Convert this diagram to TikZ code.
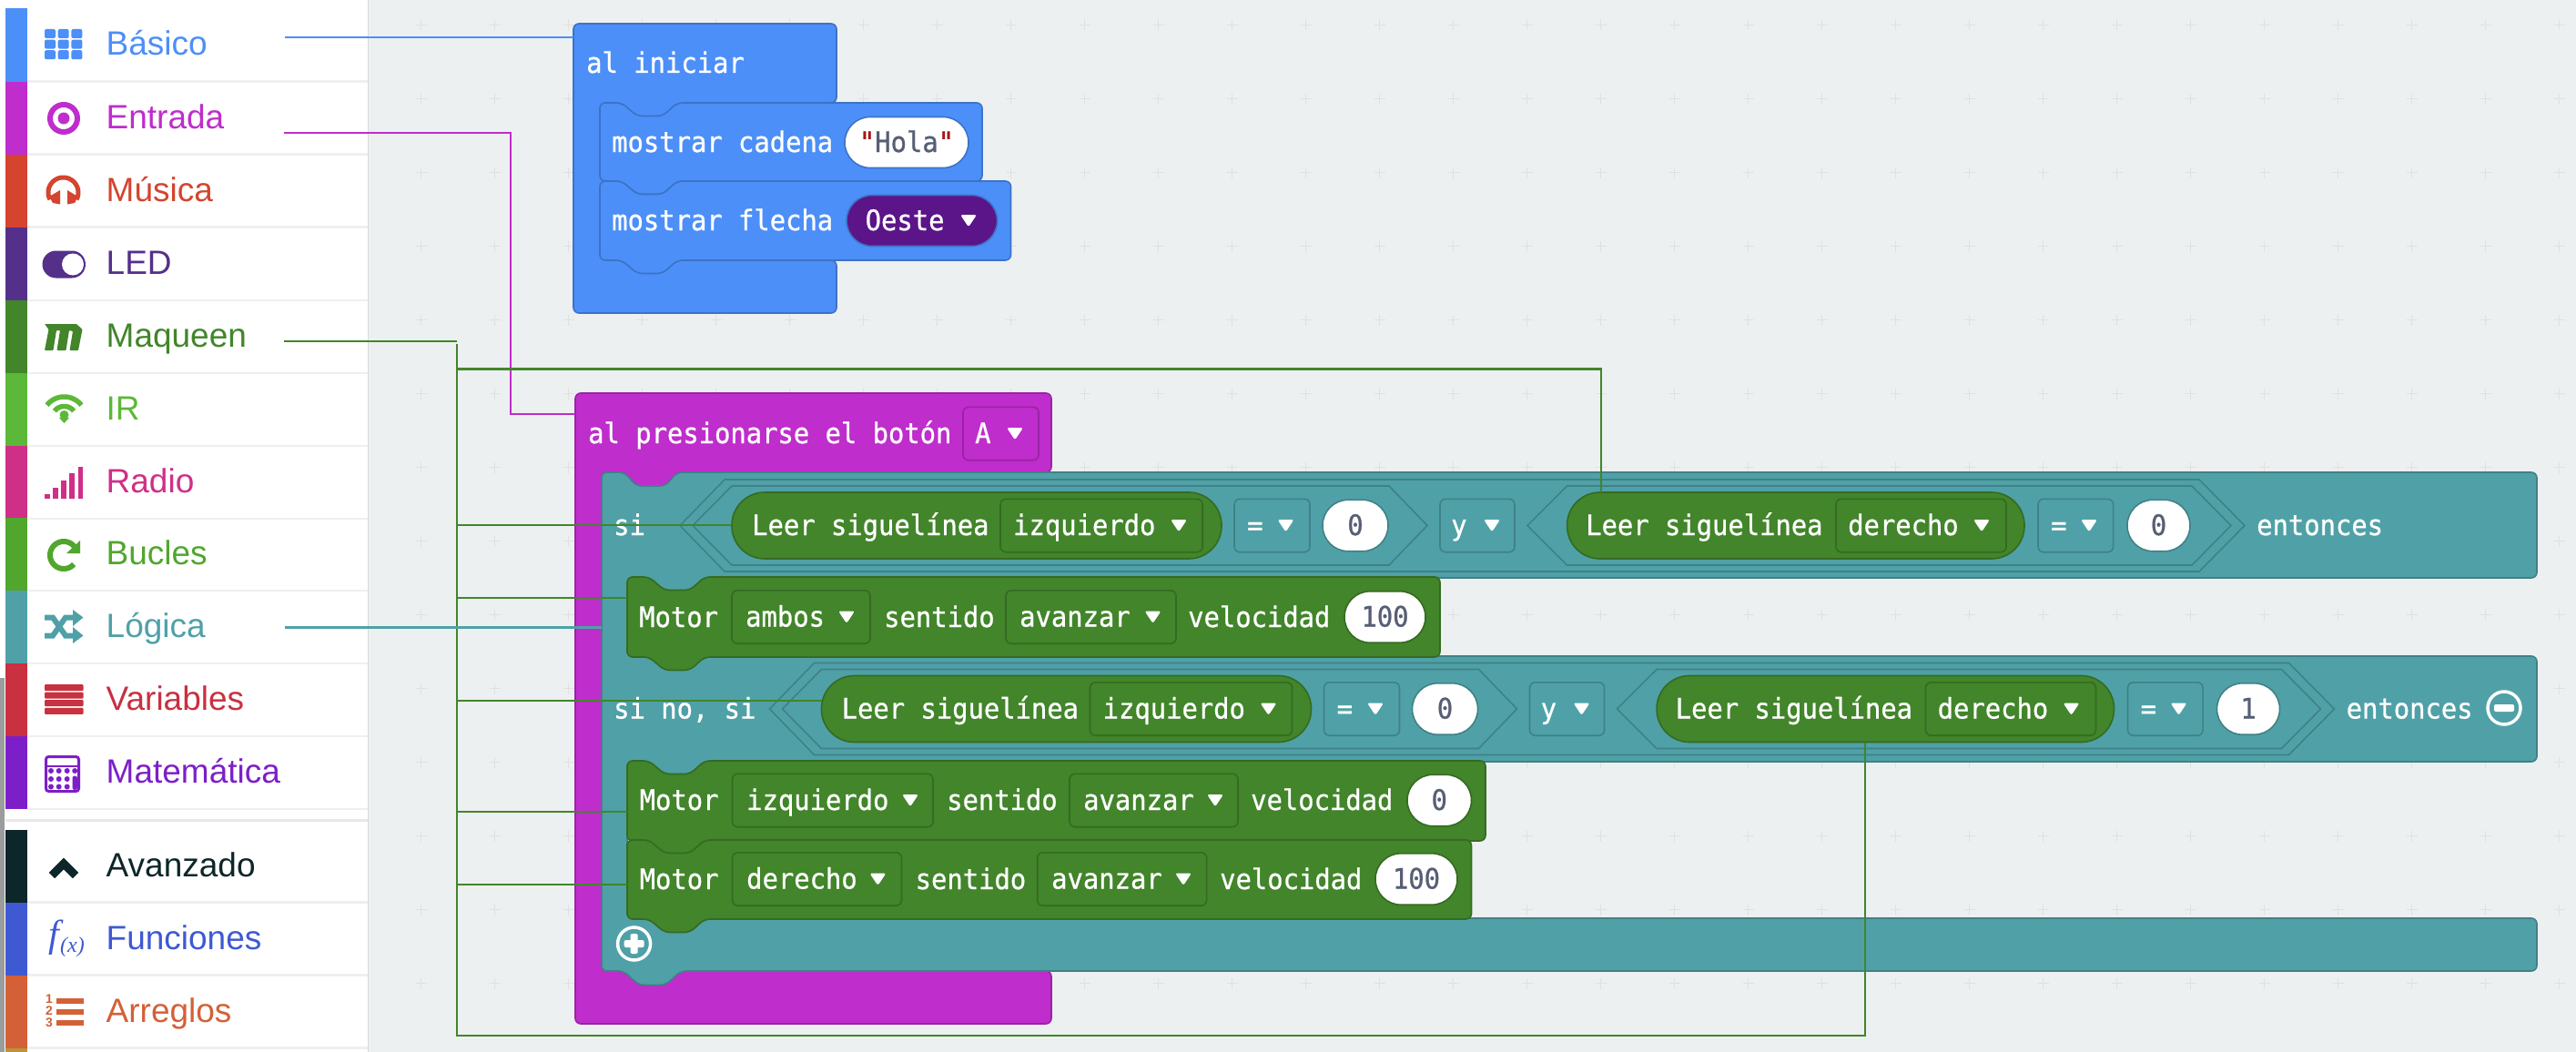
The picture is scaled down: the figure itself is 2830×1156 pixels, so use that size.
\documentclass[tikz,border=0pt]{standalone}
\usepackage{fontspec}
\setmainfont{Liberation Sans}
\newfontfamily\monof[FakeStretch=0.93,FakeBold=0.8]{DejaVu Sans Mono}
\newfontfamily\serif{Liberation Serif}
\definecolor{bgc}{HTML}{ECF0F1}
\definecolor{divc}{HTML}{EDF0F1}
\definecolor{cBas}{HTML}{4C8FF8}
\definecolor{cBasD}{HTML}{3D72C6}
\definecolor{cEnt}{HTML}{BF2DCC}
\definecolor{cEntD}{HTML}{9824A3}
\definecolor{cMus}{HTML}{D4442F}
\definecolor{cLed}{HTML}{55308A}
\definecolor{cMaq}{HTML}{42852A}
\definecolor{cMaqD}{HTML}{356A22}
\definecolor{cIR}{HTML}{5CB838}
\definecolor{cRad}{HTML}{CF2F87}
\definecolor{cBuc}{HTML}{51A62E}
\definecolor{cLog}{HTML}{4FA1A7}
\definecolor{cLogD}{HTML}{3F8186}
\definecolor{cVar}{HTML}{C93040}
\definecolor{cMat}{HTML}{7D1FC8}
\definecolor{cAva}{HTML}{0D2629}
\definecolor{cFun}{HTML}{3F59D3}
\definecolor{cArr}{HTML}{D46037}
\definecolor{cNext}{HTML}{B8963A}
\definecolor{cPur}{HTML}{5C1489}
\definecolor{numc}{HTML}{575E75}
\definecolor{strq}{HTML}{A31515}
\tikzset{
  sidelabel/.style={anchor=base west,inner sep=0pt,font=\fontsize{37pt}{40pt}\selectfont},
  mono/.style={anchor=base west,inner sep=0pt,text=white,font=\monof\fontsize{31pt}{33pt}\selectfont},
  numtext/.style={anchor=base,inner sep=0pt,text=numc,font=\monof\fontsize{31pt}{33pt}\selectfont},
  conn/.style={line width=2.2pt},
  greenblock/.style={fill=cMaq,draw=cMaqD,line width=1.6pt},
  blueblock/.style={fill=cBas,draw=cBasD,line width=1.6pt},
  tealblock/.style={fill=cLog,draw=cLogD,line width=1.6pt},
  purpleblock/.style={fill=cEnt,draw=cEntD,line width=1.6pt},
  hexline/.style={draw=cLogD,line width=1.6pt},
  tri/.style={fill=white,rounded corners=2.5pt},
  plusmark/.style={draw=black!12,line width=1pt},
  anchorarea/.style={inner sep=0pt,outer sep=0pt},
}
% statement block: style, name, x1,y1,x2,y2
\newcommand\stmtblock[6]{%
  \draw[#1,rounded corners=6pt] (#3,{(#4+#6)/2}) -- (#3,#4)
    -- ({#3+24},#4) -- ({#3+41},{#4+14.5}) -- ({#3+69},{#4+14.5}) -- ({#3+85},#4)
    -- (#5,#4) -- (#5,#6)
    -- ({#3+85},#6) -- ({#3+69},{#6+14.5}) -- ({#3+41},{#6+14.5}) -- ({#3+24},#6)
    -- (#3,#6) -- cycle;
  \node[anchorarea,minimum width={(#5-#3)*1pt},minimum height={(#6-#4)*1pt}] (#2) at ({(#3+#5)/2},{(#4+#6)/2}) {};
}
% dropdown: style, name, x1,x2,yc, textx, trix, text
\newcommand\dropd[8]{%
  \draw[#1,rounded corners=6pt] (#3,{#5-29.2}) rectangle (#4,{#5+29.2});
  \node[mono] (#2) at (#6,{#5+10.5}) {#8};
  \fill[tri] ({#7-9},{#5-6.5}) -- ({#7+9},{#5-6.5}) -- (#7,{#5+7}) -- cycle;
}
% oval: style, name, x1,x2,yc, text
\newcommand\ovalbox[6]{%
  \draw[#1,rounded corners=28pt] (#3,{#5-28.2}) rectangle (#4,{#5+28.2});
  \node[numtext] (#2) at ({(#3+#4)/2},{#5+10.5}) {#6};
}
% hexagon outline
\newcommand\hexa[6]{%
  \draw[hexline] (#1,{(#5+#6)/2}) -- (#2,#5) -- (#3,#5) -- (#4,{(#5+#6)/2}) -- (#3,#6) -- (#2,#6) -- cycle;
}
% reporter: name,x1,x2,yc
\newcommand\reporter[4]{%
  \node[anchorarea,fill=cMaq,draw=cMaqD,line width=1.6pt,rounded corners=36pt,minimum width={(#3-#2)*1pt},minimum height=73pt] (#1) at ({(#2+#3)/2},#4) {};
}
% condition row: prefix, value
\newcommand\condrow[2]{%
  \hexa{747}{796}{2416}{2466}{527}{628}
  \hexa{761}{804}{1526}{1568}{534}{621}
  \hexa{1678}{1721.6}{2408}{2451}{534}{621}
  \reporter{#1repa}{804}{1342}{577.5}
  \node[mono] (#1leera) at (826,588) {Leer siguelínea};
  \dropd{greenblock}{#1izq}{1099}{1321}{577.5}{1113}{1295}{izquierdo}
  \dropd{tealblock}{#1eqa}{1356}{1439}{577.5}{1370}{1412.5}{=}
  \ovalbox{draw=cLogD,fill=white,line width=1.6pt}{#1vala}{1453}{1525}{577.5}{0}
  \dropd{tealblock}{#1and}{1582}{1664}{577.5}{1594}{1639}{y}
  \reporter{#1repb}{1721.6}{2224}{577.5}
  \node[mono] (#1leerb) at (1742,588) {Leer siguelínea};
  \dropd{greenblock}{#1der}{2017}{2204}{577.5}{2030}{2177}{derecho}
  \dropd{tealblock}{#1eqb}{2239}{2321.6}{577.5}{2253}{2295}{=}
  \ovalbox{draw=cLogD,fill=white,line width=1.6pt}{#1valb}{2337}{2406}{577.5}{#2}
  \node[mono] (#1ent) at (2479,588) {entonces};
}
% sidebar row: name,row,y baseline,color,text
\newcommand\siderow[5]{%
  \fill[#4] (6,#3-51.5) rectangle (30,#3+28.5);
  \draw[divc,line width=2.4pt] (30,#3+28.5) -- (404,#3+28.5);
  \node[sidelabel,text=#4] (#1) at (116.5,#3) {#5};
}
\begin{document}
\begin{tikzpicture}[x=1pt,y=-1pt]
\useasboundingbox (0,0) rectangle (2830,1156);
\fill[bgc] (0,0) rectangle (2830,1156);
\foreach \i in {0,...,29} \foreach \j in {0,...,13} {
  \draw[plusmark] ({462.5+81*\i-6},{27.5+81*\j}) -- ({462.5+81*\i+6},{27.5+81*\j});
  \draw[plusmark] ({462.5+81*\i},{27.5+81*\j-6}) -- ({462.5+81*\i},{27.5+81*\j+6});
}
% sidebar
\fill[white] (0,0) rectangle (404,1156);
\draw[black!15,line width=1.2pt] (404.5,0) -- (404.5,1156);
\fill[black!35!bgc] (0,745) rectangle (5,1156);
\siderow{lblBasico}{0}{61}{cBas}{Básico}
\siderow{lblEntrada}{1}{141}{cEnt}{Entrada}
\siderow{lblMusica}{2}{221}{cMus}{Música}
\siderow{lblLed}{3}{301.5}{cLed}{LED}
\siderow{lblMaqueen}{4}{381.5}{cMaq}{Maqueen}
\siderow{lblIR}{5}{461.5}{cIR}{IR}
\siderow{lblRadio}{6}{541.5}{cRad}{Radio}
\siderow{lblBucles}{7}{620.5}{cBuc}{Bucles}
\siderow{lblLogica}{8}{700.5}{cLog}{Lógica}
\siderow{lblVariables}{9}{780.5}{cVar}{Variables}
\siderow{lblMatematica}{10}{860.5}{cMat}{Matemática}
\draw[black!9,line width=3pt] (6,901) -- (404,901);
\siderow{lblAvanzado}{11}{963}{cAva}{Avanzado}
\siderow{lblFunciones}{12}{1043}{cFun}{Funciones}
\siderow{lblArreglos}{13}{1123}{cArr}{Arreglos}
\fill[cNext] (6,1152) rectangle (30,1156);
% icons
\foreach \r in {0,1,2} \foreach \c in {0,1,2}
  \fill[cBas,rounded corners=2pt] ({49+14.7*\c},{32+11.6*\r}) rectangle ({61+14.7*\c},{42+11.6*\r});
\draw[cEnt,line width=6pt] (70,130) circle[radius=15];
\fill[cEnt] (70,130) circle[radius=6.5];
\draw[cMus,line width=5pt] plot[domain=-28:208,samples=40] ({69.5+16.5*cos(\x)},{211.5-16.5*sin(\x)});
\fill[cMus] (66,209) -- (66,224.5) -- (58,223) -- (54,216) -- cycle;
\fill[cMus] (74,209) -- (74,224.5) -- (82,223) -- (85.5,216) -- cycle;
\fill[cLed,rounded corners=15pt] (46.5,275.5) rectangle (94,305.5);
\fill[white] (80,290.5) circle[radius=12];
\fill[cMaq,rounded corners=0.8pt] (49,356) -- (84,356) -- (90.5,362) -- (86,385) -- (76.5,385) -- (80,364) -- (76,363) -- (72.5,385) -- (62.5,385) -- (66,363) -- (62,363) -- (58.5,385) -- (49,385) -- (53.5,362) -- cycle;
\draw[cIR,line width=5.5pt] plot[domain=38:142,samples=24] ({70.5+24*cos(\x)},{460-24*sin(\x)});
\draw[cIR,line width=5.5pt] plot[domain=38:142,samples=20] ({70.5+13.5*cos(\x)},{460-13.5*sin(\x)});
\fill[cIR] (70.5,465) -- (65,459) -- (76,459) -- cycle;
\fill[cIR] (70.5,456) circle[radius=5];
\fill[cRad] (49,543) rectangle (54.5,548);
\fill[cRad] (58,536) rectangle (63.5,548);
\fill[cRad] (67,528) rectangle (72.5,548);
\fill[cRad] (76,520) rectangle (81.5,548);
\fill[cRad] (85.5,513) rectangle (91,548);
\draw[cBuc,line width=6pt] plot[domain=35:318,samples=40] ({70+15*cos(\x)},{610-15*sin(\x)});
\fill[cBuc] (88,594) -- (88,608) -- (73,608) -- cycle;
\draw[cLog,line width=6pt] (49,678.5) -- (58,678.5) -- (72,698.5) -- (83,698.5);
\draw[cLog,line width=6pt] (49,698.5) -- (58,698.5) -- (72,678.5) -- (83,678.5);
\fill[cLog] (80,670) -- (91.5,678.5) -- (80,688) -- cycle;
\fill[cLog] (80,689) -- (91.5,698.5) -- (80,707) -- cycle;
\foreach \r in {0,1,2,3}
  \fill[cVar,rounded corners=1pt] (49,{752+8.6*\r}) rectangle (91.5,{759+8.6*\r});
\draw[cMat,line width=3pt,rounded corners=3pt] (50.5,831.5) rectangle (86.5,869.5);
\draw[cMat,line width=2.5pt] (50.5,842) -- (86.5,842);
\foreach \c in {56,64.7,73.7} \foreach \d in {847,856,864.5}
  \fill[cMat] (\c,\d) circle[radius=3];
\fill[cMat] (82.2,847) circle[radius=3];
\fill[cMat,rounded corners=2.5pt] (79.5,852.5) rectangle (85,868);
\draw[cAva,line width=9pt] (57,962) -- (70,949) -- (83,962);
\node[anchor=base west,inner sep=0pt,text=cFun,font=\serif\itshape\fontsize{42pt}{44pt}\selectfont] (icoF) at (53,1040) {f};
\node[anchor=base west,inner sep=0pt,text=cFun,font=\serif\itshape\fontsize{24pt}{26pt}\selectfont] (icoX) at (66,1046) {(x)};
\foreach \d in {1097,1109,1121}
  \fill[cArr] (62,\d) rectangle (91.5,{\d+6.2});
\node[inner sep=0pt,text=cArr,font=\bfseries\fontsize{14pt}{14pt}\selectfont] (ico1) at (54,1098) {1};
\node[inner sep=0pt,text=cArr,font=\bfseries\fontsize{14pt}{14pt}\selectfont] (ico2) at (54,1111) {2};
\node[inner sep=0pt,text=cArr,font=\bfseries\fontsize{14pt}{14pt}\selectfont] (ico3) at (54,1124) {3};
% ---- al iniciar block
\draw[blueblock,rounded corners=6pt] (630,100) -- (630,26) -- (919,26) -- (919,113) -- (750,113) -- (750,140) -- (670,140) -- (670,286) -- (919,286) -- (919,344) -- (630,344) -- cycle;
\node[anchorarea,minimum width=289pt,minimum height=87pt] (hatIniciar) at (774.5,69.5) {};
\node[mono] (txtIniciar) at (644,80) {al iniciar};
\stmtblock{blueblock}{blkCadena}{659}{113}{1079}{199}
\node[mono] (txtCadena) at (672,167) {mostrar cadena};
\draw[draw=cBasD,fill=white,line width=1.6pt,rounded corners=28pt] (928,128.5) rectangle (1064,184.5);
\node[numtext] (txtHola) at (996,167) {{\color{strq}"}Hola{\color{strq}"}};
\stmtblock{blueblock}{blkFlecha}{659}{199}{1110.5}{286}
\node[mono] (txtFlecha) at (672,253) {mostrar flecha};
\draw[draw=cBasD,fill=cPur,line width=1.6pt,rounded corners=28pt] (930,214.5) rectangle (1095.6,270.5);
\node[mono] (txtOeste) at (950.5,253) {Oeste};
\fill[tri] (1055,236) -- (1073,236) -- (1064,249.5) -- cycle;
% ---- al presionarse block
\draw[purpleblock,rounded corners=6pt] (632,480) -- (632,432) -- (1155,432) -- (1155,519) -- (752,519) -- (752,545) -- (672,545) -- (672,1067) -- (1155,1067) -- (1155,1125) -- (632,1125) -- cycle;
\node[anchorarea,minimum width=523pt,minimum height=87pt] (hatBoton) at (893.5,475.5) {};
\node[mono] (txtBoton) at (646,487) {al presionarse el botón};
\dropd{purpleblock}{ddA}{1058}{1141}{476.5}{1071}{1115}{A}
% teal block
\draw[tealblock,rounded corners=6pt] (661,570) -- (661,519) -- (686,519) -- (699,534) -- (731,534) -- (744,519) -- (2787,519) -- (2787,635)
  -- (774,635) -- (758,649.5) -- (730,649.5) -- (713,635) -- (689,635) -- (689,721) -- (2787,721) -- (2787,837)
  -- (774,837) -- (758,851.5) -- (730,851.5) -- (713,837) -- (689,837) -- (689,1009) -- (2787,1009) -- (2787,1067)
  -- (748,1067) -- (731,1082.5) -- (702,1082.5) -- (685,1067) -- (661,1067) -- cycle;
\node[anchorarea,minimum width=29pt,minimum height=548pt] (armLogica) at (675.5,793) {};
\node[mono] (txtSi) at (674,588) {si};
\node[mono] (txtSiNo) at (674,789.5) {si no, si};
\condrow{ra}{0}
\begin{scope}[shift={(98.5,201.5)}]
\condrow{rb}{1}
\end{scope}
\node[circle,draw=white,line width=3.5pt,minimum size=36pt,inner sep=0pt] (btnMinus) at (2751,778) {};
\fill[white,rounded corners=2pt] (2740,774) rectangle (2762,782);
\node[circle,draw=white,line width=3.5pt,minimum size=36pt,inner sep=0pt] (btnPlus) at (696.6,1037) {};
\fill[white,rounded corners=1.5pt] (685.6,1033) rectangle (707.6,1041);
\fill[white,rounded corners=1.5pt] (692.6,1026) rectangle (700.6,1048);
% motor 1
\stmtblock{greenblock}{blkMotorA}{689}{634}{1582}{722}
\node[mono] (txtMotorA) at (702,689) {Motor};
\dropd{greenblock}{ddAmbos}{804}{956}{678}{819}{930}{ambos}
\node[mono] (txtSentA) at (971,689) {sentido};
\dropd{greenblock}{ddAvA}{1105}{1292}{678}{1120}{1266.5}{avanzar}
\node[mono] (txtVelA) at (1305,689) {velocidad};
\ovalbox{draw=cMaqD,fill=white,line width=1.6pt}{valA}{1477}{1566}{678}{100}
% motor 2
\stmtblock{greenblock}{blkMotorB}{689}{836}{1632}{924}
\node[mono] (txtMotorB) at (702.5,890) {Motor};
\dropd{greenblock}{ddIzq}{804.5}{1025}{879.5}{820}{1000}{izquierdo}
\node[mono] (txtSentB) at (1040,890) {sentido};
\dropd{greenblock}{ddAvB}{1175}{1360}{879.5}{1190}{1335}{avanzar}
\node[mono] (txtVelB) at (1374,890) {velocidad};
\ovalbox{draw=cMaqD,fill=white,line width=1.6pt}{valB}{1546}{1616.5}{879.5}{0}
% motor 3
\stmtblock{greenblock}{blkMotorC}{689}{923}{1616.5}{1010}
\node[mono] (txtMotorC) at (702.5,977) {Motor};
\dropd{greenblock}{ddDer}{804.5}{990.5}{966}{820}{964.4}{derecho}
\node[mono] (txtSentC) at (1005.5,977) {sentido};
\dropd{greenblock}{ddAvC}{1139.7}{1325.6}{966}{1155}{1300}{avanzar}
\node[mono] (txtVelC) at (1340,977) {velocidad};
\ovalbox{draw=cMaqD,fill=white,line width=1.6pt}{valC}{1511}{1601}{966}{100}
% connectors
\coordinate (outBasico) at (313,41);
\coordinate (outEntrada) at (312,146);
\coordinate (turnEntrada) at (560.7,146);
\coordinate (dropEntrada) at (560.7,455);
\coordinate (outMaqueen) at (312,375);
\coordinate (outLogica) at (313,689.5);
\coordinate (tkTop) at (502,378);
\coordinate (tkBot) at (502,1138);
\coordinate (tkHead) at (502,375);
\coordinate (upStart) at (502,405.5);
\coordinate (upTurn) at (1759,405.5);
\coordinate (brA) at (502,576.7);
\coordinate (brB) at (502,656.7);
\coordinate (brC) at (502,769.7);
\coordinate (brD) at (502,891.7);
\coordinate (brE) at (502,971.7);
\coordinate (botTurn) at (2048.6,1138);
\draw[conn,cBas] (outBasico) -- (outBasico -| hatIniciar.west);
\draw[conn,cEnt] (outEntrada) -- (turnEntrada) -- (dropEntrada) -- (dropEntrada -| hatBoton.west);
\draw[conn,cMaq] (outMaqueen) -- (tkHead);
\draw[conn,cMaq] (tkTop) -- (tkBot) -- (botTurn) -- (botTurn |- rbrepb.south);
\draw[conn,cMaq] (upStart) -- (upTurn) -- (upTurn |- rarepb.north);
\draw[conn,cMaq] (brA) -- (brA -| rarepa.west);
\draw[conn,cMaq] (brB) -- (brB -| blkMotorA.west);
\draw[conn,cMaq] (brC) -- (brC -| rbrepa.west);
\draw[conn,cMaq] (brD) -- (brD -| blkMotorB.west);
\draw[conn,cMaq] (brE) -- (brE -| blkMotorC.west);
\draw[conn,cLog] (outLogica) -- (outLogica -| armLogica.west);
\end{tikzpicture}
\end{document}
